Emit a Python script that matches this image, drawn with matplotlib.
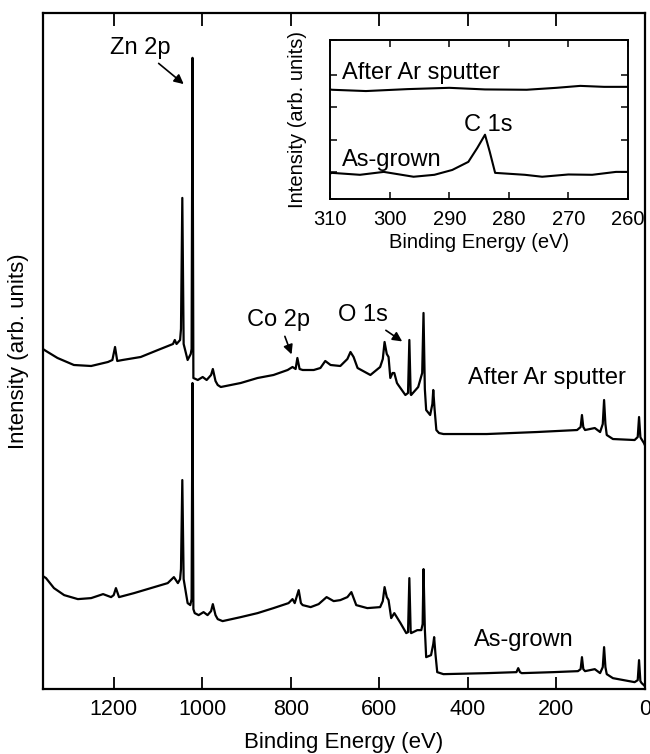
import matplotlib
matplotlib.use("Agg")
import matplotlib.pyplot as plt

plt.rcParams['font.family'] = ['Liberation Sans', 'DejaVu Sans']

# ---- main survey spectra (binding energy in eV, intensity arb. units) ----
sput_E = [1360, 1353, 1327, 1290, 1251, 1213, 1203, 1197, 1192, 1180, 1139, 1100,
          1066, 1062, 1058, 1050, 1048, 1045, 1042, 1033, 1026, 1024, 1022, 1020,
          1010, 999, 990, 980, 976, 970, 965, 958, 913, 875, 839, 807, 796, 789,
          785, 780, 773, 748, 733, 722, 710, 688, 672, 665, 658, 649, 620, 598,
          592, 588, 583, 579, 575, 570, 566, 560, 557, 541, 535, 532, 529, 528,
          512, 503, 500, 497, 494, 485, 480, 478, 475, 471, 465, 455, 357, 244,
          153, 145, 142, 139, 135, 113, 101, 95, 92, 89, 86, 72, 23, 16, 13, 10,
          9, 2, 0]
sput_I = [340, 338, 331, 324, 323, 327, 329, 342, 328, 329, 332, 339,
          345, 349, 345, 349, 360, 491, 345, 329, 335, 340, 631, 311,
          309, 312, 309, 314, 320, 308, 304, 302, 306, 311, 314, 319, 322, 320,
          331, 320, 319, 319, 321, 328, 324, 323, 330, 337, 332, 321, 314, 322,
          330, 347, 335, 332, 311, 316, 316, 306, 304, 294, 296, 349, 295, 294,
          302, 316, 376, 300, 279, 274, 285, 299, 280, 259, 256, 255, 255, 257,
          259, 262, 274, 262, 259, 261, 257, 265, 289, 265, 254, 250, 249, 252, 272, 252,
          251, 246, 244]

grown_E = [1360, 1353, 1335, 1312, 1281, 1251, 1224, 1206, 1200, 1195, 1188, 1154,
           1116, 1078, 1064, 1055, 1050, 1048, 1045, 1042, 1033, 1027, 1024, 1022,
           1020, 1017, 1008, 997, 988, 980, 976, 970, 965, 954, 913, 875, 839, 805,
           796, 791, 782, 777, 773, 755, 737, 719, 703, 688, 672, 663, 652, 627,
           598, 592, 588, 583, 579, 573, 566, 552, 539, 535, 532, 529, 528, 514,
           505, 502, 500, 497, 494, 483, 478, 476, 473, 469, 455, 357, 290, 286,
           282, 278, 207, 151, 145, 142, 139, 135, 113, 101, 95, 92, 89, 86, 72,
           23, 16, 13, 10, 7, 2, 0]
grown_I = [113, 111, 101, 94, 90, 91, 95, 92, 94, 101, 92, 96,
           101, 106, 112, 106, 110, 120, 209, 110, 86, 84, 90, 306,
           80, 76, 74, 77, 74, 78, 85, 74, 70, 68, 72, 76, 81, 86,
           90, 86, 99, 86, 84, 82, 85, 92, 88, 89, 92, 97, 84, 81,
           82, 88, 102, 92, 89, 71, 76, 66, 56, 57, 111, 57, 56, 59,
           59, 65, 120, 60, 32, 34, 45, 52, 35, 17, 15, 16, 17, 21,
           17, 16, 17, 18, 20, 32, 20, 18, 20, 16, 22, 42, 22, 15, 11,
           7, 9, 29, 8, 6, 4, 3]

main_ticks = [1200, 1000, 800, 600, 400, 200, 0]

# ---- inset: C 1s region ----
ins_E_grown = [310, 309.7, 305, 301, 296, 292.5, 289.5, 286.8, 285.3, 284, 283.2,
               282.3, 277.3, 274.4, 270, 266, 262, 260]
ins_I_grown = [0.95, 0.97, 0.91, 1.0, 0.85, 0.91, 1.06, 1.31, 1.74, 2.15, 1.62,
               0.97, 0.91, 0.85, 0.92, 0.91, 1.0, 1.0]
ins_E_sput = [310, 309.7, 304, 297, 290, 284, 277, 272, 268, 264, 260]
ins_I_sput = [3.55, 3.54, 3.5, 3.56, 3.6, 3.55, 3.54, 3.6, 3.66, 3.63, 3.63]
ins_xticks = [310, 300, 290, 280, 270, 260]
ins_yticks = [1, 2, 3, 4]

fig = plt.figure(figsize=(6.5, 7.54), dpi=100)
ax = fig.add_axes([0.066, 0.086, 0.926, 0.897])
ax.plot(sput_E, sput_I, color='black', lw=1.6)
ax.plot(grown_E, grown_I, color='black', lw=1.6)
ax.set_xlim(1360, 0)
ax.set_ylim(0, 676)
ax.set_xticks(main_ticks)
ax.set_yticks([])
ax.tick_params(axis='x', direction='in', top=True, length=9, width=1.3,
               labelsize=15.5, pad=7)
for s in ax.spines.values():
    s.set_linewidth(1.6)
ax.set_xlabel('Binding Energy (eV)', fontsize=16, labelpad=9)
ax.set_ylabel('Intensity (arb. units)', fontsize=16, labelpad=10)

fs_ann = 17
arr = dict(arrowstyle='-|>', color='black', lw=1.2, mutation_scale=14)
ax.annotate('Zn 2p', xy=(1037, 603), xytext=(1141, 641), fontsize=fs_ann,
            ha='center', va='center', arrowprops=arr)
ax.annotate('Co 2p', xy=(796, 332), xytext=(827, 369), fontsize=fs_ann,
            ha='center', va='center', arrowprops=arr)
ax.annotate('O 1s', xy=(543, 346), xytext=(636, 374), fontsize=fs_ann,
            ha='center', va='center', arrowprops=arr)
ax.text(221, 311, 'After Ar sputter', fontsize=fs_ann, ha='center', va='center')
ax.text(273, 49, 'As-grown', fontsize=fs_ann, ha='center', va='center')

# inset
ai = fig.add_axes([0.508, 0.736, 0.458, 0.211])
ai.plot(ins_E_sput, ins_I_sput, color='black', lw=1.5)
ai.plot(ins_E_grown, ins_I_grown, color='black', lw=1.5)
ai.set_xlim(310, 260)
ai.set_ylim(0.16, 5.08)
ai.set_xticks(ins_xticks)
ai.set_yticks(ins_yticks)
ai.set_yticks([0.16, 5.08], minor=True)
ai.set_yticklabels([])
ai.tick_params(direction='in', top=True, right=True, length=5, width=1.1,
               labelsize=14.5, pad=8)
ai.tick_params(axis='y', which='minor', direction='in', left=True, right=True,
               length=5, width=1.1)
for s in ai.spines.values():
    s.set_linewidth(1.4)
ai.set_xlabel('Binding Energy (eV)', fontsize=14.5, labelpad=3)
ai.set_ylabel('Intensity (arb. units)', fontsize=14.5, labelpad=9)
ai.text(308, 4.06, 'After Ar sputter', fontsize=fs_ann, ha='left', va='center')
ai.text(308, 1.37, 'As-grown', fontsize=fs_ann, ha='left', va='center')
ai.text(283.5, 2.46, 'C 1s', fontsize=fs_ann, ha='center', va='center')

fig.savefig('out.png', dpi=100)
